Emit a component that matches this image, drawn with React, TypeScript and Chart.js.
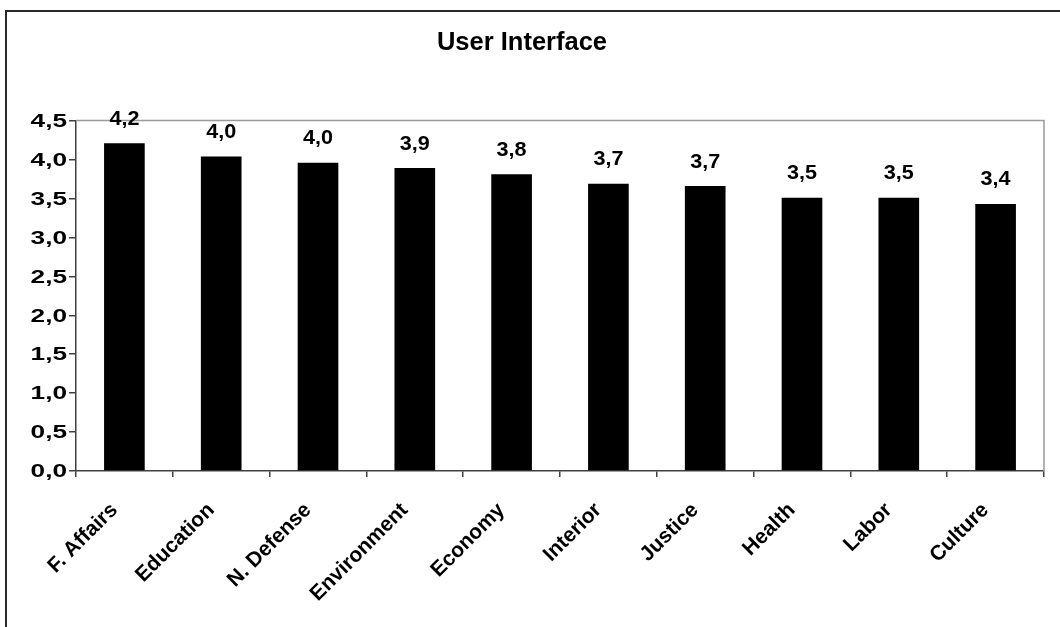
import React, { useEffect, useRef } from "react";
import { Chart, registerables } from "chart.js";

Chart.register(...registerables);

const categories = [
  "F. Affairs",
  "Education",
  "N. Defense",
  "Environment",
  "Economy",
  "Interior",
  "Justice",
  "Health",
  "Labor",
  "Culture",
];
const scores = [4.21, 4.04, 3.96, 3.89, 3.81, 3.69, 3.66, 3.51, 3.51, 3.43];
const yTicks = [0, 0.5, 1, 1.5, 2, 2.5, 3, 3.5, 4, 4.5];
const chartTitle = "User Interface";

const FONT = "'Liberation Sans', Arial, sans-serif";
const fmt = (v: number) => v.toFixed(1).replace(".", ",");

const frameAndLabels = {
  id: "frameAndLabels",
  beforeDatasetsDraw(chart: any) {
    const { ctx, chartArea } = chart;
    ctx.save();
    ctx.strokeStyle = "#9a9a9a";
    ctx.lineWidth = 1.5;
    ctx.beginPath();
    ctx.moveTo(chartArea.left, chartArea.top);
    ctx.lineTo(chartArea.right, chartArea.top);
    ctx.lineTo(chartArea.right, chartArea.bottom);
    ctx.stroke();
    ctx.restore();
  },
  afterDraw(chart: any) {
    const { ctx, chartArea } = chart;
    const xScale = chart.scales.x;
    const yScale = chart.scales.y;
    const meta = chart.getDatasetMeta(0);
    ctx.save();
    ctx.fillStyle = "#000";

    // value labels above bars
    ctx.font = `bold 20px ${FONT}`;
    ctx.textAlign = "center";
    ctx.textBaseline = "middle";
    meta.data.forEach((bar: any, i: number) => {
      ctx.save();
      ctx.translate(bar.x, bar.y - 24);
      ctx.scale(1.08, 1);
      ctx.fillText(fmt(scores[i]), 0, 0);
      ctx.restore();
    });

    // y tick labels
    ctx.font = `bold 19px ${FONT}`;
    ctx.textAlign = "right";
    ctx.textBaseline = "middle";
    yTicks.forEach((v) => {
      const y = yScale.getPixelForValue(v);
      ctx.save();
      ctx.translate(chartArea.left - 9, y + 1);
      ctx.scale(1.38, 1);
      ctx.fillText(fmt(v), 0, 0);
      ctx.restore();
    });

    // x category labels, rotated 45°
    ctx.font = `bold 21px ${FONT}`;
    ctx.textAlign = "right";
    ctx.textBaseline = "alphabetic";
    categories.forEach((c, i) => {
      const x = xScale.getPixelForValue(i);
      ctx.save();
      ctx.translate(x - 6, chartArea.bottom + 40);
      ctx.rotate(-Math.PI / 4);
      ctx.fillText(c, 0, 0);
      ctx.restore();
    });
    ctx.restore();
  },
};

export default function App() {
  const ref = useRef<HTMLCanvasElement | null>(null);

  useEffect(() => {
    document.body.style.margin = "0";
    const canvas = ref.current;
    if (!canvas) return;
    const chart = new Chart(canvas, {
      type: "bar",
      data: {
        labels: categories,
        datasets: [
          {
            data: scores,
            backgroundColor: "#000000",
            borderWidth: 0,
            barPercentage: 0.42,
            categoryPercentage: 1,
          },
        ],
      },
      options: {
        animation: false,
        responsive: false,
        maintainAspectRatio: false,
        layout: { padding: { left: 0, right: 16, top: 0, bottom: 0 } },
        plugins: {
          legend: { display: false },
          tooltip: { enabled: false },
          title: {
            display: true,
            text: chartTitle,
            color: "#000",
            font: { family: FONT, size: 25.5, weight: "bold", lineHeight: 1.2 },
            padding: { top: 28, bottom: 62 },
          },
        },
        scales: {
          x: {
            offset: true,
            grid: {
              offset: true,
              drawOnChartArea: false,
              drawTicks: true,
              tickLength: 6,
              color: "#404040",
              lineWidth: 1.5,
            },
            border: { display: true, color: "#404040", width: 1.5 },
            ticks: { display: false, autoSkip: false },
            afterFit(scale: any) {
              scale.height = 156;
            },
          },
          y: {
            min: 0,
            max: 4.5,
            afterBuildTicks(scale: any) {
              scale.ticks = yTicks.map((v) => ({ value: v }));
            },
            grid: {
              drawOnChartArea: false,
              drawTicks: true,
              tickLength: 7,
              color: "#404040",
              lineWidth: 1.5,
            },
            border: { display: true, color: "#404040", width: 1.5 },
            ticks: { display: false },
            afterFit(scale: any) {
              scale.width = 76;
            },
          },
        },
      },
      plugins: [frameAndLabels],
    });
    return () => chart.destroy();
  }, []);

  return (
    <div style={{ position: "relative", width: 1060, height: 627, overflow: "hidden", background: "#fff" }}>
      <div
        style={{
          position: "absolute",
          left: 5,
          top: 10,
          width: 1100,
          height: 700,
          borderLeft: "2px solid #2a2a2a",
          borderTop: "2px solid #2a2a2a",
        }}
      />
      <canvas ref={ref} width={1060} height={627} style={{ position: "absolute", left: 0, top: 0 }} />
    </div>
  );
}
